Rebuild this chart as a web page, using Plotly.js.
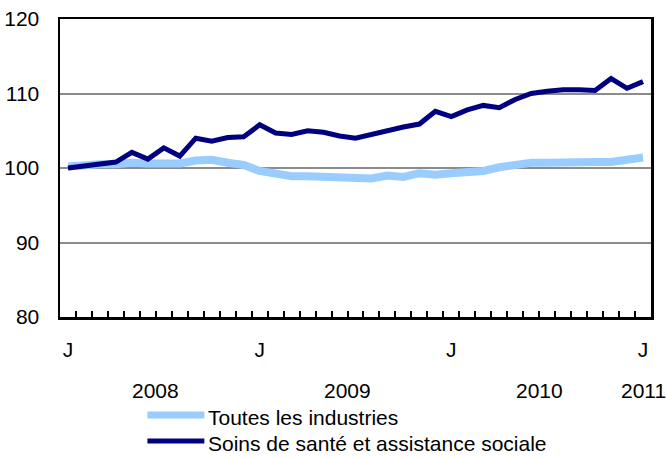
<!DOCTYPE html>
<html>
<head>
<meta charset="utf-8">
<script src="https://cdn.plot.ly/plotly-3.0.1.min.js"></script>
<style>
html,body{margin:0;padding:0;background:#fff;}
#chart{width:666px;height:458px;}
</style>
</head>
<body>
<div id="chart"></div>
<script>
// Months: January 2008 to January 2011
const months = ['2008-01','2008-02','2008-03','2008-04','2008-05','2008-06','2008-07','2008-08','2008-09','2008-10','2008-11','2008-12',
                '2009-01','2009-02','2009-03','2009-04','2009-05','2009-06','2009-07','2009-08','2009-09','2009-10','2009-11','2009-12',
                '2010-01','2010-02','2010-03','2010-04','2010-05','2010-06','2010-07','2010-08','2010-09','2010-10','2010-11','2010-12',
                '2011-01'];
const toutes = [100.2,100.4,100.5,100.5,100.7,100.6,100.6,100.6,101.0,101.1,100.7,100.4,
                99.6,99.2,98.9,98.9,98.8,98.7,98.6,98.6,99.0,98.8,99.3,99.1,
                99.3,99.5,99.6,100.1,100.4,100.7,100.7,100.8,100.8,100.8,100.8,101.0,101.4];
const sante = [100.0,100.3,100.6,100.8,102.1,101.2,102.7,101.6,104.0,103.6,104.1,104.2,
               105.8,104.7,104.5,105.0,104.8,104.3,104.0,104.5,105.1,105.5,105.9,107.6,
               106.9,107.8,108.4,108.1,109.2,110.0,110.3,110.5,110.5,110.4,112.0,110.7,111.6];
const seriesNames = ['Toutes les industries','Soins de santé et assistance sociale'];
const seriesColors = ['#99CCFF','#000080'];
const monthTickLabels = ['J','J','J','J'];
const monthTickIdx = [0,12,24,36];
const yearLabels = ['2008','2009','2010','2011'];
const yearPos = [5.5,17.5,29.5,36];

const xIdx = months.map((m,i)=>i);
const boundaries = months.slice(1).map((m,i)=>i+0.5);
const FONT = 'Liberation Sans, Arial, sans-serif';
const FS = 21;

const traces = [
  {x:xIdx, y:toutes, type:'scatter', mode:'lines', name:seriesNames[0],
   line:{color:seriesColors[0], width:8}, hoverinfo:'skip'},
  {x:xIdx, y:sante, type:'scatter', mode:'lines', name:seriesNames[1],
   line:{color:seriesColors[1], width:5}, hoverinfo:'skip'},
  {x:[monthTickIdx[0]], y:[null], xaxis:'x2', type:'scatter', mode:'lines', showlegend:false, hoverinfo:'skip'}
];

const L = 59.5, R = 651, T = 19, B = 317;
const W = R - L, H = B - T;
const px = v => (v - L) / W;
const py = v => (B - v) / H;

const annotations = yearLabels.map((t,i)=>({
  text:t, xref:'x', x:yearPos[i], yref:'paper', y:py(390), xanchor:'center', yanchor:'middle',
  showarrow:false, font:{family:FONT, size:FS, color:'#000'}
}));
const legY = [417, 443];
seriesNames.forEach((n,i)=>{
  annotations.push({text:n, xref:'paper', x:px(206), yref:'paper', y:py(legY[i]), xanchor:'left', yanchor:'middle',
    showarrow:false, font:{family:FONT, size:FS, color:'#000'}});
});
const shapes = seriesNames.map((n,i)=>({
  type:'line', xref:'paper', yref:'paper', x0:px(147), x1:px(204), y0:py(legY[i]-2), y1:py(legY[i]-2),
  line:{color:seriesColors[i], width: i===0 ? 7 : 5}
}));

const layout = {
  width:666, height:458,
  margin:{l:L, r:666-R, t:T, b:458-B, pad:0},
  paper_bgcolor:'#fff', plot_bgcolor:'#fff',
  showlegend:false,
  font:{family:FONT, size:FS, color:'#000'},
  xaxis:{range:[-0.5,36.5], tickmode:'array', tickvals:boundaries, ticks:'inside', ticklen:6, tickwidth:2, tickcolor:'#000',
         showticklabels:false, showgrid:false, zeroline:false, showline:true, linecolor:'#000', linewidth:2.5, mirror:true},
  xaxis2:{overlaying:'x', side:'bottom', range:[-0.5,36.5], tickmode:'array', tickvals:monthTickIdx, ticktext:monthTickLabels,
          ticks:'', showline:false, showgrid:false, zeroline:false, ticklabelstandoff:18,
          tickfont:{family:FONT, size:FS, color:'#000'}},
  yaxis:{range:[80,120], tickmode:'array', tickvals:[80,90,100,110,120], ticks:'', showgrid:true, gridcolor:'#8c8c8c', gridwidth:2,
         zeroline:false, showline:true, linecolor:'#000', linewidth:2.5, mirror:true, ticklabelstandoff:14,
         tickfont:{family:FONT, size:FS, color:'#000'}},
  annotations:annotations,
  shapes:shapes
};

Plotly.newPlot('chart', traces, layout, {staticPlot:true, displayModeBar:false});
</script>
</body>
</html>
